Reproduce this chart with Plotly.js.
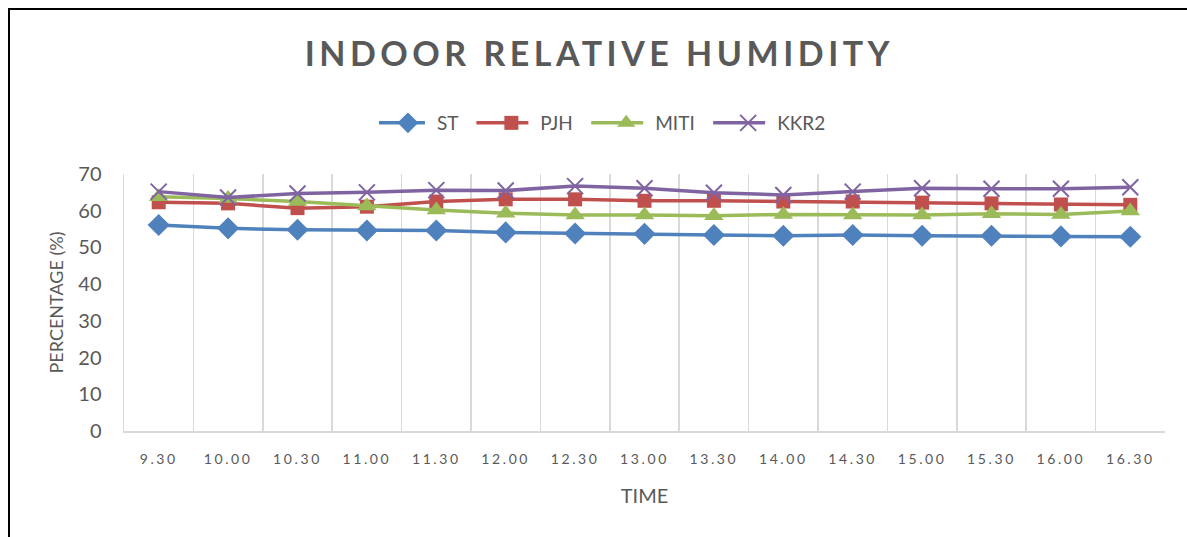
<!DOCTYPE html>
<html>
<head>
<meta charset="utf-8">
<script src="https://cdn.plot.ly/plotly-3.0.1.min.js"></script>
<style>
  html, body { margin: 0; padding: 0; background: #fff; }
  #wrap { position: relative; width: 1187px; height: 537px; }
  #chart { position: absolute; left: 0; top: 0; width: 1187px; height: 537px; }
  #frame { position: absolute; left: 8px; top: 8px; width: 1179px; height: 529px;
           border-left: 2px solid #000; border-top: 2px solid #000; box-sizing: border-box; pointer-events: none; }
  .gtitle { letter-spacing: 4.5px; }
  .xtick text { letter-spacing: 2.6px; }
  .legend .legendlines path { d: path("M-6,0h52"); }
</style>
</head>
<body>
<div id="wrap">
  <div id="chart"></div>
  <div id="frame"></div>
</div>
<script>
const times = ["9.30","10.00","10.30","11.00","11.30","12.00","12.30","13.00","13.30","14.00","14.30","15.00","15.30","16.00","16.30"];
const seriesNames = ["ST", "PJH", "MITI", "KKR2"];
const ST   = [56.1,55.2,54.8,54.6,54.6,54.1,53.8,53.7,53.4,53.2,53.4,53.2,53.2,53.0,52.9];
const PJH  = [62.3,62.0,60.7,61.1,62.5,63.1,63.1,62.7,62.7,62.5,62.5,62.2,62.0,61.7,61.6];
const MITI = [63.8,63.3,62.5,61.3,60.2,59.3,58.8,58.8,58.6,59.0,58.8,58.8,59.2,59.0,59.9];
const KKR2 = [65.2,63.6,64.7,65.0,65.6,65.5,66.7,66.1,64.9,64.3,65.2,66.1,66.0,66.0,66.4];

const PAD = "\u00A0\u00A0\u00A0\u00A0";
function tr(i, y, color, symbol, msize, mline) {
  const name = seriesNames[i] + (i < seriesNames.length - 1 ? PAD : "");
  return {
    type: "scatter", mode: "lines+markers", name: name, x: times, y: y,
    line: { color: color, width: 3.5 },
    marker: { symbol: symbol, size: msize, color: color, line: mline || { width: 0 } }
  };
}
const data = [
  tr(0, ST, "#4F81BD", "diamond", 17),
  tr(1, PJH, "#C0504D", "square", 14),
  tr(2, MITI, "#9BBB59", "triangle-up", 17),
  tr(3, KKR2, "#8064A2", "x-thin", 16, { width: 2, color: "#8064A2" })
];
const layout = {
  width: 1187, height: 537,
  margin: { l: 124, r: 22, t: 174, b: 106 },
  paper_bgcolor: "#fff", plot_bgcolor: "#fff",
  font: { family: "Lato, 'Open Sans', sans-serif", color: "#595959" },
  title: { text: "INDOOR RELATIVE HUMIDITY", x: 0.505, xanchor: "center", y: 1 - 54/537, yanchor: "middle",
           font: { size: 34, weight: "bold", color: "#595959", family: "Lato, sans-serif" } },
  showlegend: true,
  legend: { orientation: "h", x: 0.462, xanchor: "center", y: 1 + 51/257, yanchor: "middle",
            font: { size: 19, color: "#595959" }, itemwidth: 48, traceorder: "normal" },
  xaxis: {
    type: "category", range: [-0.5, 14.5], tickson: "boundaries", showgrid: true, gridcolor: "#d9d9d9", gridwidth: 1.5,
    showline: true, linecolor: "#d9d9d9", linewidth: 1.5, ticks: "", zeroline: false,
    tickfont: { size: 14, color: "#595959" }, ticklabelstandoff: 15,
    title: { text: "TIME", font: { size: 20, color: "#595959" }, standoff: 22 }
  },
  yaxis: {
    range: [0, 70], dtick: 10, showgrid: false, zeroline: false,
    showline: true, linecolor: "#d9d9d9", linewidth: 1.5, ticks: "",
    tickfont: { size: 20, color: "#595959" }, ticklabelstandoff: 17,
    title: { text: "PERCENTAGE (%)", font: { size: 18, color: "#595959" }, standoff: 10 }
  }
};
Plotly.newPlot("chart", data, layout, { displayModeBar: false, staticPlot: true });
</script>
</body>
</html>
